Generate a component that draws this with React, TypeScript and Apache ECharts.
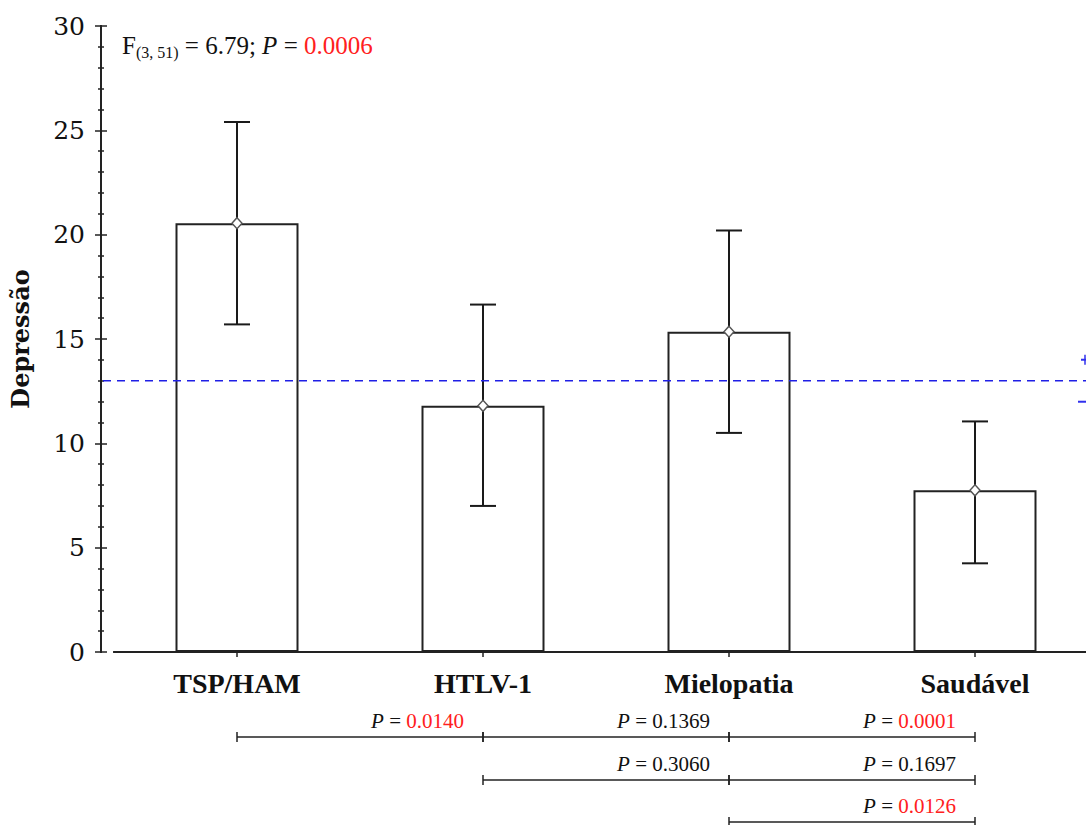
import React, { useEffect, useRef } from 'react';
import * as echarts from 'echarts';

const categories = ['TSP/HAM', 'HTLV-1', 'Mielopatia', 'Saudável'];
const means = [20.55, 11.8, 15.35, 7.75];
const upper = [25.4, 16.65, 20.2, 11.05];
const lower = [15.7, 7.0, 10.5, 4.25];
const referenceValue = 13;
const yTicks = { min: 0, max: 30, interval: 5 };
const anovaText = { f: '(3, 51)', stat: '6.79', p: '0.0006' };
// pairwise comparisons: from category index, to category index, P value, significant, row
const compFrom = [0, 1, 2, 1, 2, 2];
const compTo = [1, 2, 3, 2, 3, 3];
const compP = ['0.0140', '0.1369', '0.0001', '0.3060', '0.1697', '0.0126'];
const compSig = [true, false, true, false, false, true];
const compRow = [0, 0, 0, 1, 1, 2];

const SERIF = '"Liberation Serif", "Times New Roman", serif';
const AXIS = '#222';

export default function App() {
  const ref = useRef<HTMLDivElement>(null);
  useEffect(() => {
    const chart = echarts.init(ref.current as HTMLDivElement, null, { renderer: 'svg' });
    const yCommon = {
      type: 'value',
      min: yTicks.min,
      max: yTicks.max,
      interval: yTicks.interval,
      position: 'left',
      offset: 13,
      splitLine: { show: false },
      axisLine: { show: true, lineStyle: { color: AXIS, width: 2 } },
      minorTick: { show: true, splitNumber: 5, length: 3, lineStyle: { color: AXIS, width: 1.5 } },
    };
    const xCommon = {
      type: 'category',
      data: categories,
      position: 'bottom',
      boundaryGap: true,
      axisLine: { show: true, lineStyle: { color: AXIS, width: 2 } },
      splitLine: { show: false },
    };
    chart.setOption({
      animation: false,
      backgroundColor: '#fff',
      grid: { left: 114, right: -12, top: 26, bottom: 173, containLabel: false, outerBoundsMode: 'none' },
      xAxis: [
        {
          ...xCommon,
          axisTick: { show: true, alignWithLabel: true, length: 5, lineStyle: { color: AXIS, width: 1.5 } },
          axisLabel: {
            show: true,
            margin: 17,
            fontFamily: SERIF,
            fontWeight: 'bold',
            fontSize: 28,
            color: '#111',
          },
        },
        {
          ...xCommon,
          axisTick: { show: true, inside: true, alignWithLabel: true, length: 5, lineStyle: { color: AXIS, width: 1.5 } },
          axisLabel: { show: false },
        },
      ],
      yAxis: [
        {
          ...yCommon,
          name: 'Depressão',
          nameLocation: 'middle',
          nameGap: 69,
          nameRotate: 90,
          nameTextStyle: { fontFamily: '"DejaVu Serif", serif', fontWeight: 'bold', fontSize: 24, color: '#111' },
          axisTick: { show: true, length: 6, lineStyle: { color: AXIS, width: 1.5 } },
          axisLabel: { show: true, margin: 16, fontFamily: '"DejaVu Serif", serif', fontSize: 25, color: '#111' },
        },
        {
          ...yCommon,
          axisTick: { show: true, inside: true, length: 6, lineStyle: { color: AXIS, width: 1.5 } },
          axisLabel: { show: false },
        },
      ],
      series: [
        {
          type: 'bar',
          data: means,
          barWidth: '50%',
          itemStyle: { color: '#fff', borderColor: '#222', borderWidth: 2 },
          z: 1,
        },
        {
          type: 'custom',
          data: categories.map((_, i) => [i, lower[i], upper[i]]),
          encode: { x: 0, y: [1, 2] },
          z: 3,
          renderItem: (params: any, api: any) => {
            const lo = api.coord([api.value(0), api.value(1)]);
            const hi = api.coord([api.value(0), api.value(2)]);
            const cap = 13;
            const style = { stroke: '#1a1a1a', lineWidth: 2 };
            return {
              type: 'group',
              children: [
                { type: 'line', shape: { x1: lo[0], y1: lo[1], x2: hi[0], y2: hi[1] }, style },
                { type: 'line', shape: { x1: lo[0] - cap, y1: lo[1], x2: lo[0] + cap, y2: lo[1] }, style },
                { type: 'line', shape: { x1: hi[0] - cap, y1: hi[1], x2: hi[0] + cap, y2: hi[1] }, style },
              ],
            };
          },
        },
        {
          type: 'scatter',
          data: means,
          symbol: 'diamond',
          symbolSize: [10, 11],
          itemStyle: { color: '#fff', borderColor: '#555', borderWidth: 1.5, opacity: 1 },
          z: 5,
        },
      ],
    });

    const px = (i: number) => (chart.convertToPixel({ xAxisIndex: 0 }, i) as number);
    const py = (v: number) => (chart.convertToPixel({ yAxisIndex: 0 }, v) as number);
    const axisY = py(0);
    const refY = py(referenceValue);
    const rowY = [axisY + 85, axisY + 128, axisY + 170];
    const g: any[] = [];

    // reference dashed line
    g.push({
      type: 'line',
      shape: { x1: 103, y1: refY, x2: 1086, y2: refY },
      style: { stroke: '#1f1fe6', lineWidth: 1.5, lineDash: [8, 6] },
      z: 10,
    });
    // partially visible marks at right edge
    g.push({ type: 'line', shape: { x1: 1081, y1: refY - 21, x2: 1086, y2: refY - 21 }, style: { stroke: '#3030ee', lineWidth: 2 } });
    g.push({ type: 'line', shape: { x1: 1085, y1: refY - 26, x2: 1085, y2: refY - 16 }, style: { stroke: '#3030ee', lineWidth: 1.5 } });
    g.push({ type: 'line', shape: { x1: 1078, y1: refY + 21, x2: 1086, y2: refY + 21 }, style: { stroke: '#3030ee', lineWidth: 2 } });

    // ANOVA annotation
    g.push({
      type: 'text',
      x: 122,
      y: 30,
      style: {
        text: `{f|F}{s|${anovaText.f}}{n| = ${anovaText.stat}; }{i|P}{n| = }{r|${anovaText.p}}`,
        align: 'left',
        verticalAlign: 'top',
        textAlign: 'left',
        textVerticalAlign: 'top',
        rich: {
          f: { fontFamily: SERIF, fontSize: 25, fill: '#111', lineHeight: 30, verticalAlign: 'middle' },
          s: { fontFamily: SERIF, fontSize: 16, fill: '#111', lineHeight: 15, verticalAlign: 'bottom' },
          n: { fontFamily: SERIF, fontSize: 25, fill: '#111', lineHeight: 30, verticalAlign: 'middle' },
          i: { fontFamily: SERIF, fontSize: 25, fontStyle: 'italic', fill: '#111', lineHeight: 30, verticalAlign: 'middle' },
          r: { fontFamily: SERIF, fontSize: 25, fill: '#ff2020', lineHeight: 30, verticalAlign: 'middle' },
        },
      },
    });

    // pairwise comparison brackets
    const lineStyle = { stroke: '#222', lineWidth: 1.5 };
    compP.forEach((p, k) => {
      const x1 = px(compFrom[k]);
      const x2 = px(compTo[k]);
      const y = rowY[compRow[k]];
      g.push({ type: 'line', shape: { x1, y1: y, x2, y2: y }, style: lineStyle });
      g.push({ type: 'line', shape: { x1, y1: y - 5, x2: x1, y2: y + 5 }, style: lineStyle });
      g.push({ type: 'line', shape: { x1: x2, y1: y - 5, x2, y2: y + 5 }, style: lineStyle });
      g.push({
        type: 'text',
        x: x2 - 19,
        y: y - 16,
        style: {
          text: `{i|P}{n| = }{v|${p}}`,
          align: 'right',
          verticalAlign: 'middle',
          textAlign: 'right',
          textVerticalAlign: 'middle',
          rich: {
            i: { fontFamily: SERIF, fontSize: 21, fontStyle: 'italic', fill: '#111' },
            n: { fontFamily: SERIF, fontSize: 21, fill: '#111' },
            v: { fontFamily: SERIF, fontSize: 21, fill: compSig[k] ? '#ff2020' : '#111' },
          },
        },
      });
    });

    chart.setOption({ graphic: { elements: g } });
    return () => chart.dispose();
  }, []);
  return <div ref={ref} style={{ position: 'fixed', left: 0, top: 0, width: 1086, height: 825 }} />;
}
